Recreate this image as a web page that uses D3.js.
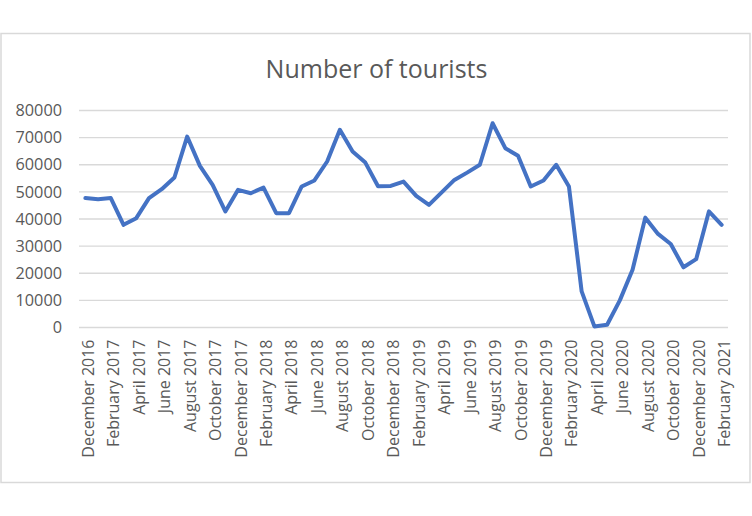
<!DOCTYPE html>
<html>
<head>
<meta charset="utf-8">
<script src="https://cdn.jsdelivr.net/npm/d3@7"></script>
<style>
  html, body { margin: 0; padding: 0; background: #fff; }
  svg { display: block; }
  text { font-family: "Open Sans", "Noto Sans", sans-serif; fill: #595959; }
</style>
</head>
<body>
<svg id="chart" width="752" height="516"></svg>
<script>
const title = "Number of tourists";
// Monthly categories, December 2016 .. February 2021
const categories = [
  "December 2016","January 2017","February 2017","March 2017","April 2017","May 2017","June 2017","July 2017","August 2017","September 2017","October 2017","November 2017",
  "December 2017","January 2018","February 2018","March 2018","April 2018","May 2018","June 2018","July 2018","August 2018","September 2018","October 2018","November 2018",
  "December 2018","January 2019","February 2019","March 2019","April 2019","May 2019","June 2019","July 2019","August 2019","September 2019","October 2019","November 2019",
  "December 2019","January 2020","February 2020","March 2020","April 2020","May 2020","June 2020","July 2020","August 2020","September 2020","October 2020","November 2020",
  "December 2020","January 2021","February 2021"
];
const tourists = [
  47700, 47300, 47700, 37850, 40300, 47700, 51000, 55300, 70400, 59600, 52600, 42800,
  50750, 49500, 51600, 42150, 42150, 52000, 54200, 61200, 72900, 64900, 60800, 52100,
  52200, 53800, 48500, 45200, 49800, 54400, 57100, 60000, 75300, 66100, 63300, 52000,
  54200, 60000, 52000, 13300, 400, 1000, 10000, 21300, 40500, 34500, 30800, 22200,
  25200, 42800, 37850
];
const yTicks = [0, 10000, 20000, 30000, 40000, 50000, 60000, 70000, 80000];
// every second category is labelled
const xTickLabels = categories.filter((d, i) => i % 2 === 0);

const svg = d3.select("#chart");

// chart frame
svg.append("rect")
  .attr("x", 1).attr("y", 33.5).attr("width", 749).attr("height", 449)
  .attr("fill", "#fff").attr("stroke", "#d9d9d9").attr("stroke-width", 1.5);

const plot = { left: 79, right: 728, top: 110.5, bottom: 327.5 };

const x = d3.scaleBand().domain(categories).range([plot.left, plot.right]).padding(0);
const y = d3.scaleLinear().domain([0, 80000]).range([plot.bottom, plot.top]);

// gridlines
svg.append("g")
  .selectAll("line").data(yTicks).join("line")
  .attr("x1", plot.left).attr("x2", plot.right)
  .attr("y1", d => y(d)).attr("y2", d => y(d))
  .attr("stroke", "#d9d9d9").attr("stroke-width", 1.3);

// y axis labels
const yAxis = d3.axisLeft(y).tickValues(yTicks).tickSize(0).tickPadding(0).tickFormat(d3.format("d"));
const gy = svg.append("g").attr("transform", "translate(62,0)").call(yAxis);
gy.select(".domain").remove();
gy.selectAll("text").attr("font-size", 16.3).attr("fill", "#595959")
  .style("font-family", '"Open Sans", "Noto Sans", sans-serif');

// x axis labels
const xAxis = d3.axisBottom(x).tickValues(xTickLabels).tickSize(0).tickPadding(0);
const gx = svg.append("g").attr("transform", `translate(0,${plot.bottom})`).call(xAxis);
gx.select(".domain").remove();
gx.selectAll("text")
  .attr("font-size", 16).attr("fill", "#595959")
  .style("font-family", '"Open Sans", "Noto Sans", sans-serif')
  .attr("text-anchor", "end")
  .attr("dy", null)
  .attr("y", 0)
  .attr("transform", "translate(2.5,12) rotate(-90)")
  .attr("dominant-baseline", "central");

// line
const line = d3.line()
  .x((d, i) => x(categories[i]) + x.bandwidth() / 2)
  .y(d => y(d));
svg.append("path")
  .datum(tourists)
  .attr("d", line)
  .attr("fill", "none")
  .attr("stroke", "#4472C4")
  .attr("stroke-width", 4)
  .attr("stroke-linejoin", "round")
  .attr("stroke-linecap", "round");

// title
svg.append("text")
  .attr("x", 376.5).attr("y", 77.5)
  .attr("text-anchor", "middle")
  .attr("font-size", 25)
  .text(title);
</script>
</body>
</html>
